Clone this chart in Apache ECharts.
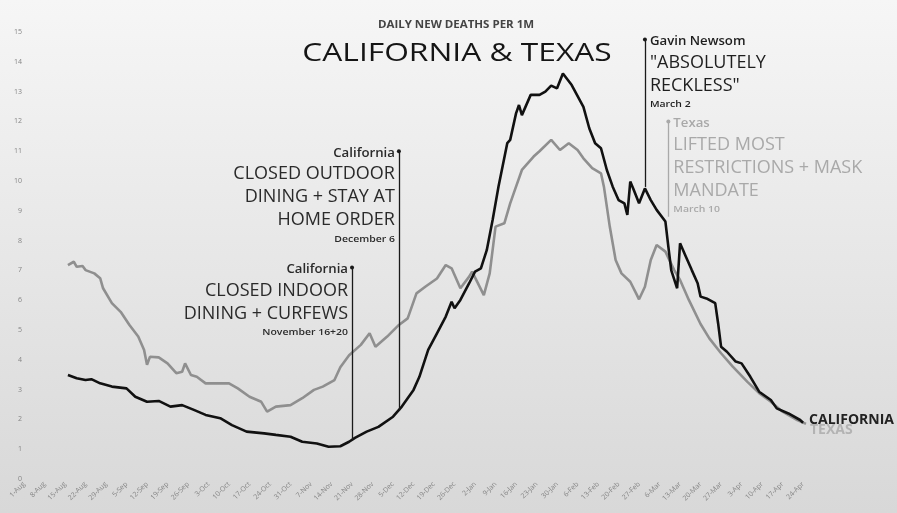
<!DOCTYPE html>
<html>
<head>
<meta charset="UTF-8">
<title>California & Texas</title>
<script src="https://cdn.jsdelivr.net/npm/echarts@6/dist/echarts.min.js"></script>
<style>html,body{margin:0;padding:0;} #chart{width:897px;height:513px;}</style>
</head>
<body>
<div id="chart"></div>
<script>
// daily new deaths per 1M, 7-day average
var startDate = '2020-08-01';
var lastDay = 267;
var monthNames = ['Jan','Feb','Mar','Apr','May','Jun','Jul','Aug','Sep','Oct','Nov','Dec'];

var txDates = ['2020-08-16','2020-08-18','2020-08-19','2020-08-21','2020-08-22','2020-08-25','2020-08-27','2020-08-28','2020-08-31',
  '2020-09-03','2020-09-06','2020-09-09','2020-09-11','2020-09-12','2020-09-13','2020-09-16','2020-09-19','2020-09-22','2020-09-24','2020-09-25','2020-09-27','2020-09-29',
  '2020-10-02','2020-10-06','2020-10-10','2020-10-13','2020-10-17','2020-10-21','2020-10-23','2020-10-26','2020-10-31',
  '2020-11-04','2020-11-08','2020-11-11','2020-11-15','2020-11-17','2020-11-20','2020-11-24','2020-11-27','2020-11-29',
  '2020-12-03','2020-12-07','2020-12-10','2020-12-13','2020-12-16','2020-12-20','2020-12-23','2020-12-25','2020-12-28','2020-12-31',
  '2021-01-01','2021-01-05','2021-01-07','2021-01-09','2021-01-12','2021-01-14','2021-01-16','2021-01-18','2021-01-22','2021-01-24','2021-01-28','2021-01-31',
  '2021-02-03','2021-02-06','2021-02-08','2021-02-11','2021-02-14','2021-02-15','2021-02-17','2021-02-19','2021-02-21','2021-02-24','2021-02-26','2021-02-27',
  '2021-03-01','2021-03-03','2021-03-05','2021-03-08','2021-03-11','2021-03-13','2021-03-16','2021-03-20','2021-03-23','2021-03-27','2021-03-31',
  '2021-04-05','2021-04-09','2021-04-13','2021-04-17','2021-04-22','2021-04-25'];
var txValues = [7.18,7.29,7.12,7.15,7.01,6.90,6.74,6.40,5.90,
  5.61,5.17,4.78,4.33,3.83,4.10,4.08,3.88,3.55,3.60,3.88,3.49,3.43,
  3.21,3.21,3.21,3.04,2.76,2.59,2.26,2.43,2.48,
  2.71,2.99,3.10,3.32,3.75,4.15,4.50,4.89,4.44,
  4.78,5.17,5.39,6.23,6.45,6.73,7.18,7.07,6.40,6.79,
  6.96,6.17,6.90,8.47,8.58,9.25,9.81,10.37,10.82,11.00,11.38,11.04,
  11.27,11.04,10.76,10.43,10.26,9.81,8.47,7.35,6.90,6.62,6.23,6.03,
  6.45,7.35,7.85,7.63,7.01,6.68,6.01,5.20,4.72,4.22,3.77,
  3.26,2.88,2.59,2.26,1.98,1.85];

var caDates = ['2020-08-16','2020-08-19','2020-08-22','2020-08-24','2020-08-27','2020-08-31',
  '2020-09-05','2020-09-08','2020-09-12','2020-09-16','2020-09-20','2020-09-24','2020-09-28',
  '2020-10-02','2020-10-07','2020-10-11','2020-10-16','2020-10-22','2020-10-26','2020-10-31',
  '2020-11-04','2020-11-09','2020-11-13','2020-11-17','2020-11-20','2020-11-22','2020-11-26','2020-11-30',
  '2020-12-05','2020-12-08','2020-12-12','2020-12-14','2020-12-17','2020-12-20','2020-12-23','2020-12-25','2020-12-26','2020-12-28','2020-12-31',
  '2021-01-02','2021-01-04','2021-01-06','2021-01-08','2021-01-10','2021-01-13','2021-01-14','2021-01-16','2021-01-17','2021-01-18','2021-01-21','2021-01-24','2021-01-26','2021-01-28','2021-01-30',
  '2021-02-01','2021-02-04','2021-02-08','2021-02-10','2021-02-12','2021-02-14','2021-02-16','2021-02-18','2021-02-20','2021-02-22','2021-02-23','2021-02-24','2021-02-25','2021-02-27',
  '2021-03-01','2021-03-03','2021-03-05','2021-03-08','2021-03-09','2021-03-10','2021-03-12','2021-03-13','2021-03-15','2021-03-17','2021-03-19','2021-03-20','2021-03-22','2021-03-25','2021-03-26','2021-03-27','2021-03-29',
  '2021-04-01','2021-04-03','2021-04-06','2021-04-09','2021-04-13','2021-04-15','2021-04-19','2021-04-23','2021-04-24'];
var caValues = [3.49,3.38,3.32,3.35,3.21,3.10,
  3.04,2.76,2.59,2.62,2.43,2.48,2.32,
  2.15,2.04,1.81,1.59,1.53,1.48,1.42,
  1.25,1.19,1.08,1.10,1.25,1.38,1.59,1.75,
  2.09,2.43,2.99,3.43,4.33,4.89,5.45,5.95,5.73,6.01,6.57,
  6.96,7.07,7.68,8.69,9.81,11.27,11.38,12.27,12.55,12.21,12.89,12.89,13.00,13.20,13.11,
  13.61,13.22,12.49,11.77,11.27,11.10,10.37,9.81,9.36,9.25,8.86,9.98,9.75,9.25,
  9.75,9.36,9.03,8.64,7.80,7.00,6.40,7.91,7.46,7.01,6.57,6.12,6.06,5.90,5.22,4.44,4.27,
  3.94,3.88,3.43,2.93,2.65,2.37,2.20,1.98,1.89];

// annotations: where the line sits, how high it goes, where it meets the curve
var events = [
  {at:'2020-11-21', top:7.1, base:1.3, side:'left', color:'#2a2a2a', who:'California',
   lines:['CLOSED INDOOR','DINING + CURFEWS'], when:'November 16+20'},
  {at:'2020-12-07', top:11.0, base:2.3, side:'left', color:'#2a2a2a', who:'California',
   lines:['CLOSED OUTDOOR','DINING + STAY AT','HOME ORDER'], when:'December 6'},
  {at:'2021-03-01', top:14.75, base:9.8, side:'right', color:'#1e1e1e', who:'Gavin Newsom',
   lines:['"ABSOLUTELY','RECKLESS"'], when:'March 2'},
  {at:'2021-03-09', top:12.0, base:8.8, side:'right', color:'#a9a9a9', who:'Texas',
   lines:['LIFTED MOST','RESTRICTIONS + MASK','MANDATE'], when:'March 10'}
];

var t0 = Date.parse(startDate);
function dayOf(s) { return Math.round((Date.parse(s) - t0) / 864e5); }
function pairs(dates, vals) { return dates.map(function (d, i) { return [dayOf(d), vals[i]]; }); }
function weekLabel(v) {
  if (v % 7 !== 0 || v > 266) return '';
  var d = new Date(t0 + v * 864e5);
  return d.getUTCDate() + '-' + monthNames[d.getUTCMonth()];
}

var font = '"Open Sans", Lato, sans-serif';
var chart = echarts.init(document.getElementById('chart'), null, {renderer: 'canvas'});

var markLines = events.map(function (e) {
  return [{coord: [dayOf(e.at), e.base]}, {coord: [dayOf(e.at), e.top]}];
});

var option = {
  backgroundColor: new echarts.graphic.LinearGradient(0, 0, 0, 1, [
    {offset: 0, color: '#f6f6f6'}, {offset: 1, color: '#d8d8d8'}
  ]),
  animation: false,
  grid: {left: 24, right: 91, top: 32, bottom: 34},
  xAxis: {
    type: 'value', min: 0, max: lastDay, interval: 7,
    axisLine: {show: false}, axisTick: {show: false}, splitLine: {show: false},
    axisLabel: {rotate: 45, fontSize: 7, color: '#858585', margin: 4, fontFamily: font,
      showMaxLabel: false, formatter: weekLabel}
  },
  yAxis: {
    type: 'value', min: 0, max: 15, interval: 1,
    axisLine: {show: false}, axisTick: {show: false}, splitLine: {show: false},
    axisLabel: {fontSize: 7, color: '#858585', margin: 2, fontFamily: font}
  },
  series: [
    {name: 'Texas', type: 'line', showSymbol: false, data: pairs(txDates, txValues),
     lineStyle: {color: '#8f8f8f', width: 2.6}, itemStyle: {color: '#8f8f8f'},
     endLabel: {show: true, formatter: 'TEXAS', color: '#b3b3b3', fontSize: 14,
       fontWeight: 'bold', fontFamily: font, distance: 4, offset: [0, 6]},
     markLine: {silent: true, symbol: ['none', 'circle'], symbolSize: 4,
       label: {show: false},
       lineStyle: {color: '#a9a9a9', width: 1.3, type: 'solid'},
       data: markLines.slice(3)}},
    {name: 'California', type: 'line', showSymbol: false, data: pairs(caDates, caValues),
     lineStyle: {color: '#111', width: 2.6}, itemStyle: {color: '#111'},
     endLabel: {show: true, formatter: 'CALIFORNIA', color: '#222', fontSize: 14,
       fontWeight: 'bold', fontFamily: font, distance: 6, offset: [0, -3]},
     markLine: {silent: true, symbol: ['none', 'circle'], symbolSize: 4,
       label: {show: false},
       lineStyle: {color: '#1a1a1a', width: 1.3, type: 'solid'},
       data: markLines.slice(0, 3)}}
  ]
};
chart.setOption(option);

// text helper: the original face is a wide geometric sans, so stretch a little
function txt(str, x, y, size, weight, color, align, stretch) {
  return {type: 'text', silent: true, x: x, y: y, scaleX: stretch || 1, style: {
    text: str, x: 0, y: 0, textAlign: align, textVerticalAlign: 'middle',
    font: weight + ' ' + size + 'px ' + font, fill: color}};
}

var texts = [
  txt('DAILY NEW DEATHS PER 1M', 456, 25, 10, 'bold', '#444', 'center', 1.15),
  txt('CALIFORNIA & TEXAS', 457, 54, 26, 'normal', '#151515', 'center', 1.22)
];

// annotation text, anchored to the top of each marker line
events.forEach(function (e) {
  var p = chart.convertToPixel({gridIndex: 0}, [dayOf(e.at), e.top]);
  var left = e.side === 'left';
  var x = left ? p[0] - 4 : p[0] + 5;
  var align = left ? 'right' : 'left';
  texts.push(txt(e.who, x, p[1] + 2, 12, '600', e.color, align, 1.1));
  e.lines.forEach(function (l, i) {
    texts.push(txt(l, x, p[1] + 23 + 23 * i, 18, 'normal', e.color, align, 1));
  });
  texts.push(txt(e.when, x, p[1] + 23 * e.lines.length + 19, 9.5, '600', e.color, align, 1.1));
});
chart.setOption({graphic: texts});
</script>
</body>
</html>
